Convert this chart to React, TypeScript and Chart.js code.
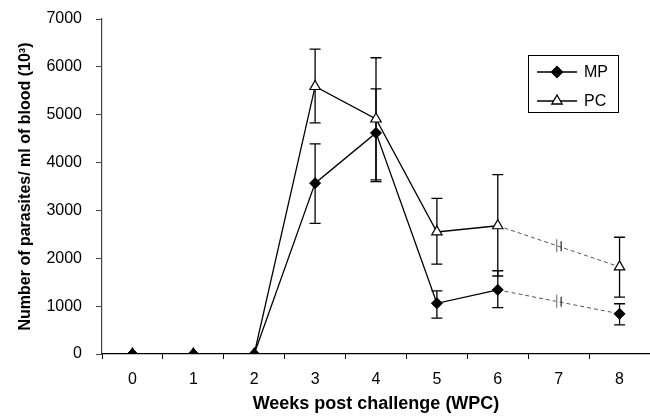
import React, { useEffect, useRef } from "react";
import { Chart, registerables } from "chart.js";

Chart.register(...registerables);

const weeks = ["0", "1", "2", "3", "4", "5", "6", "7", "8"];
const mpMean = [0, 0, 0, 3570, 4620, 1060, 1340, null, 840];
const mpHigh = [null, null, null, 4390, 5540, 1320, 1740, null, 1050];
const mpLow = [null, null, null, 2730, 3600, 750, 970, null, 610];
const pcMean = [0, 0, 0, 5590, 4910, 2550, 2680, null, 1820];
const pcHigh = [null, null, null, 6370, 6190, 3250, 3750, null, 2440];
const pcLow = [null, null, null, 4830, 3640, 1880, 1630, null, 1190];
const seriesNames = ["MP", "PC"];
const yTitle = "Number of parasites/ ml of blood (10\u00B3)";
const xTitle = "Weeks post challenge (WPC)";

const FONT = "'Liberation Sans', Arial, Helvetica, sans-serif";

const errorBarPlugin = {
  id: "errorBars",
  beforeDatasetsDraw(chart: any) {
    const { ctx, scales } = chart;
    const xs = scales.x;
    const ys = scales.y;
    const sets = [
      [mpHigh, mpLow],
      [pcHigh, pcLow],
    ];
    ctx.save();
    ctx.strokeStyle = "#000";
    ctx.lineWidth = 1.3;
    sets.forEach(([hi, lo]) => {
      hi.forEach((h: number | null, i: number) => {
        const l = lo[i];
        if (h == null || l == null) return;
        const x = xs.getPixelForValue(i);
        const yh = ys.getPixelForValue(h);
        const yl = ys.getPixelForValue(l);
        const cw = 5.5;
        ctx.beginPath();
        ctx.moveTo(x, yh);
        ctx.lineTo(x, yl);
        ctx.moveTo(x - cw, yh);
        ctx.lineTo(x + cw, yh);
        ctx.moveTo(x - cw, yl);
        ctx.lineTo(x + cw, yl);
        ctx.stroke();
      });
    });
    ctx.restore();
  },
  afterDatasetsDraw(chart: any) {
    // break marks on the dashed gap segment (week 7)
    const { ctx } = chart;
    ctx.save();
    chart.data.datasets.forEach((ds: any, di: number) => {
      const meta = chart.getDatasetMeta(di);
      const p0 = meta.data[6];
      const p1 = meta.data[8];
      if (!p0 || !p1) return;
      const xm = (p0.x + p1.x) / 2;
      const ym = (p0.y + p1.y) / 2;
      ctx.strokeStyle = "#888";
      ctx.lineWidth = 1.3;
      ctx.beginPath();
      ctx.moveTo(xm - 2, ym - 7);
      ctx.lineTo(xm - 2, ym + 6);
      ctx.stroke();
      ctx.strokeStyle = "#333";
      ctx.beginPath();
      ctx.moveTo(xm + 2.5, ym - 5);
      ctx.lineTo(xm + 2.5, ym + 5);
      ctx.stroke();
    });
    ctx.restore();
  },
};

const legendPlugin = {
  id: "boxLegend",
  afterDraw(chart: any) {
    const { ctx, chartArea } = chart;
    const boxW = 90;
    const boxH = 57;
    const left = chartArea.right - 122;
    const top = chartArea.top + 36;
    ctx.save();
    ctx.fillStyle = "#fff";
    ctx.fillRect(left, top, boxW, boxH);
    ctx.strokeStyle = "#000";
    ctx.lineWidth = 1;
    ctx.strokeRect(left + 0.5, top + 0.5, boxW, boxH);
    chart.data.datasets.forEach((ds: any, i: number) => {
      const y = top + 17 + i * 29;
      const x0 = left + 9;
      const x1 = left + 49;
      ctx.strokeStyle = "#000";
      ctx.lineWidth = 1.3;
      ctx.beginPath();
      ctx.moveTo(x0, y);
      ctx.lineTo(x1, y);
      ctx.stroke();
      const cx = (x0 + x1) / 2;
      ctx.fillStyle = ds.pointBackgroundColor;
      ctx.strokeStyle = "#000";
      ctx.beginPath();
      if (ds.pointStyle === "rectRot") {
        const r = ds.pointRadius;
        ctx.moveTo(cx, y - r);
        ctx.lineTo(cx + r, y);
        ctx.lineTo(cx, y + r);
        ctx.lineTo(cx - r, y);
        ctx.closePath();
      } else {
        const r = ds.pointRadius;
        ctx.moveTo(cx, y - r);
        ctx.lineTo(cx + r * 0.866, y + r * 0.5);
        ctx.lineTo(cx - r * 0.866, y + r * 0.5);
        ctx.closePath();
      }
      ctx.fill();
      ctx.stroke();
      ctx.fillStyle = "#000";
      ctx.font = `16px ${FONT}`;
      ctx.textBaseline = "middle";
      ctx.textAlign = "left";
      ctx.fillText(ds.label, left + 56, y + 1);
    });
    ctx.restore();
  },
};

export default function App() {
  const ref = useRef<HTMLCanvasElement | null>(null);
  useEffect(() => {
    document.body.style.margin = "0";
    const canvas = ref.current;
    if (!canvas) return;
    const isGap = (c: any) => c.p1DataIndex === 8;
    const seg = {
      borderDash: (c: any) => (isGap(c) ? [4, 3] : undefined),
      borderColor: (c: any) => (isGap(c) ? "#555" : undefined),
      borderWidth: (c: any) => (isGap(c) ? 1 : undefined),
    };
    const chart = new Chart(canvas, {
      type: "line",
      data: {
        labels: weeks,
        datasets: [
          {
            label: seriesNames[0],
            data: mpMean,
            borderColor: "#000",
            borderWidth: 1.3,
            pointStyle: "rectRot",
            pointRadius: 5.5,
            pointBackgroundColor: "#000",
            pointBorderColor: "#000",
            pointBorderWidth: 1,
            spanGaps: true,
            segment: seg,
          },
          {
            label: seriesNames[1],
            data: pcMean,
            borderColor: "#000",
            borderWidth: 1.3,
            pointStyle: "triangle",
            pointRadius: 6,
            pointBackgroundColor: "#fff",
            pointBorderColor: "#000",
            pointBorderWidth: 1.2,
            spanGaps: true,
            segment: seg,
          },
        ] as any,
      },
      options: {
        responsive: false,
        animation: false,
        layout: { autoPadding: false, padding: { left: 8, right: 0, top: 19, bottom: 2 } },
        plugins: {
          legend: { display: false },
          tooltip: { enabled: false },
        },
        scales: {
          x: {
            type: "category",
            offset: true,
            grid: {
              offset: true,
              drawOnChartArea: false,
              drawTicks: true,
              tickLength: 5,
              color: "#000",
            },
            border: { color: "#000", width: 1.2 },
            ticks: {
              color: "#000",
              font: { family: FONT, size: 16 },
              padding: 11,
              maxRotation: 0,
            },
            title: {
              display: true,
              text: xTitle,
              color: "#000",
              font: { family: FONT, size: 18, weight: "bold" },
              padding: { top: 4, bottom: 0 },
            },
            afterFit: (s: any) => {
              s.height = 61;
              s.paddingLeft = 0;
              s.paddingRight = 0;
            },
          },
          y: {
            min: 0,
            max: 7000,
            ticks: {
              stepSize: 1000,
              color: "#000",
              font: { family: FONT, size: 16 },
              padding: 14,
              callback: (v: any) => String(v),
            },
            grid: {
              drawOnChartArea: false,
              drawTicks: true,
              tickLength: 6,
              color: "#444",
            },
            border: { color: "#444", width: 1.2 },
            title: {
              display: true,
              text: yTitle,
              color: "#000",
              font: { family: FONT, size: 16, weight: "bold" },
              padding: { top: 8, bottom: 0 },
            },
            afterFit: (s: any) => {
              s.width = 94;
              s.paddingTop = 0;
              s.paddingBottom = 0;
            },
          },
        },
      } as any,
      plugins: [errorBarPlugin, legendPlugin],
    });
    return () => chart.destroy();
  }, []);
  return <canvas ref={ref} width={650} height={417} />;
}
